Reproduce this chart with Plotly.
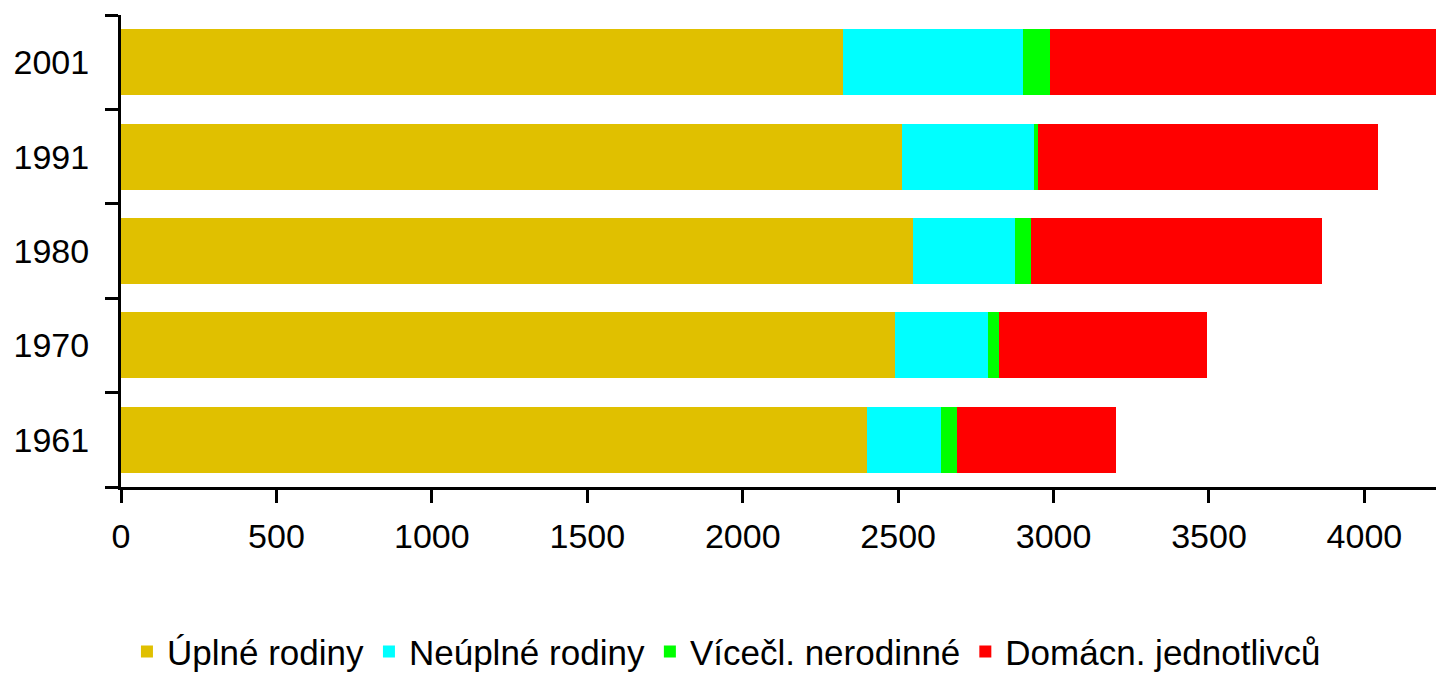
import plotly.graph_objects as go

years = ["1961", "1970", "1980", "1991", "2001"]
uplne = [2400, 2489, 2548, 2514, 2323]
neuplne = [239, 301, 329, 424, 579]
vicecl = [49, 36, 49, 13, 88]
jednotlivci = [514, 666, 939, 1094, 1270]

series_names = ["Úplné rodiny", "Neúplné rodiny", "Vícečl. nerodinné", "Domácn. jednotlivců"]
series_values = [uplne, neuplne, vicecl, jednotlivci]
colors = ["#E0C000", "#00FFFF", "#00FF00", "#FF0000"]

x_ticks = [0, 500, 1000, 1500, 2000, 2500, 3000, 3500, 4000]

fig = go.Figure()
for name, vals, col in zip(series_names, series_values, colors):
    fig.add_trace(go.Bar(
        y=years, x=vals, name=name, orientation="h",
        marker=dict(color=col, line=dict(width=0)),
    ))

FONT = "Liberation Sans, Arial, sans-serif"
fig.update_layout(
    barmode="stack",
    bargap=0.30,
    width=1436, height=666,
    margin=dict(l=113, r=0, t=7, b=187, autoexpand=False),
    plot_bgcolor="white", paper_bgcolor="white",
    font=dict(family=FONT, size=34, color="black"),
    showlegend=True,
    legend=dict(
        orientation="h", x=0.0045, xanchor="left", y=-0.349, yanchor="middle",
        font=dict(family=FONT, size=35, color="black"),
        traceorder="normal", itemclick=False,
        bgcolor="rgba(0,0,0,0)",
    ),
    xaxis=dict(
        range=[0, 4256], tickvals=x_ticks, ticktext=[str(v) for v in x_ticks],
        showgrid=False, zeroline=False,
        showline=True, linecolor="black", linewidth=3,
        ticks="outside", ticklen=13, tickwidth=3, tickcolor="black",
        ticklabelstandoff=4,
    ),
    yaxis=dict(
        type="category", categoryorder="array", categoryarray=years,
        showgrid=False, zeroline=False,
        showline=True, linecolor="black", linewidth=3,
        ticks="outside", ticklen=13, tickwidth=3, tickcolor="black",
        tickson="boundaries", ticklabelstandoff=22,
    ),
)

fig.write_html("out.html")
